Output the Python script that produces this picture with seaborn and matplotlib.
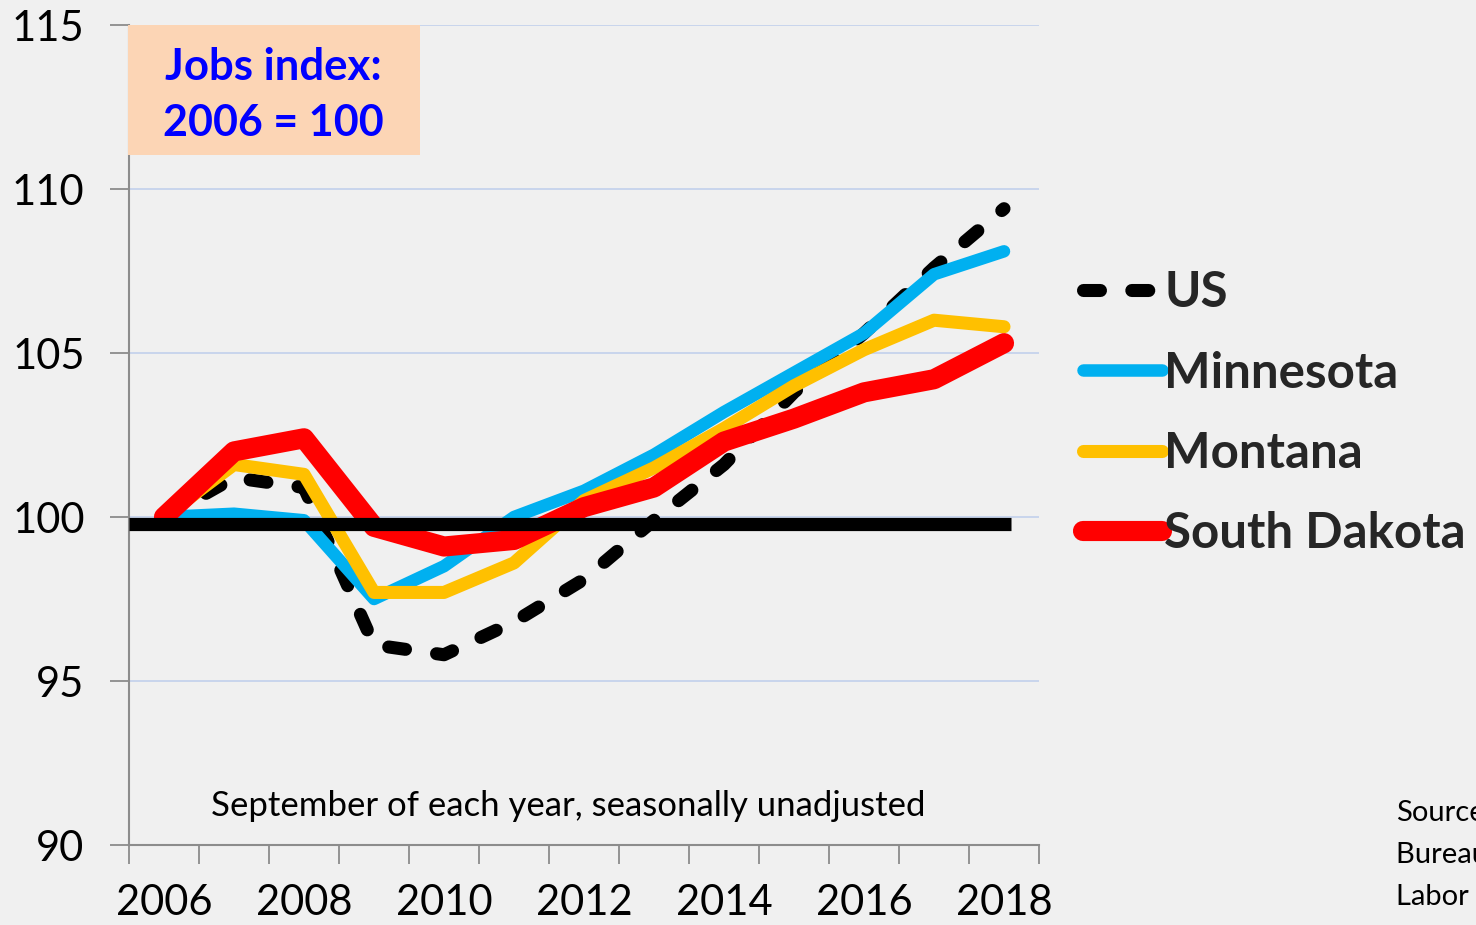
import matplotlib
matplotlib.use("Agg")
import matplotlib.pyplot as plt
import matplotlib.patches as mpatches
import seaborn as sns
import pandas as pd
import numpy as np

years = [2006, 2007, 2008, 2009, 2010, 2011, 2012, 2013, 2014, 2015, 2016, 2017, 2018]
us = [100.0, 101.2, 100.9, 96.1, 95.8, 96.8, 98.1, 99.9, 101.6, 103.8, 105.6, 107.6, 109.4]
minnesota = [100.0, 100.1, 99.9, 97.5, 98.5, 100.0, 100.8, 101.9, 103.2, 104.4, 105.6, 107.4, 108.1]
montana = [100.0, 101.6, 101.3, 97.7, 97.7, 98.6, 100.5, 101.5, 102.7, 104.0, 105.1, 106.0, 105.8]
south_dakota = [100.0, 102.0, 102.4, 99.7, 99.1, 99.3, 100.3, 100.9, 102.3, 103.0, 103.8, 104.2, 105.3]
baseline_value = 99.8
ytick_values = [90, 95, 100, 105, 110, 115]
xtick_labels = ["2006", "2008", "2010", "2012", "2014", "2016", "2018"]

BG = "#f0f0f0"
FONT = "Lato"

sns.set_theme(style="white")
plt.rcParams["font.family"] = [FONT, "DejaVu Sans"]

fig = plt.figure(figsize=(14.76, 9.25), dpi=100, facecolor=BG)
ax = fig.add_axes([129 / 1476, 80 / 925, 910 / 1476, 820 / 925])
ax.set_facecolor(BG)

x = np.arange(len(years))
df = pd.DataFrame({"pos": x, "US": us, "Minnesota": minnesota,
                   "Montana": montana, "South Dakota": south_dakota})

series = [
    ("US", "#000000", 9.4, True),
    ("Minnesota", "#00b0f0", 9.0, False),
    ("Montana", "#ffc000", 9.4, False),
    ("South Dakota", "#ff0000", 14.5, False),
]
handles = []
for name, color, lw, dashed in series:
    sns.lineplot(data=df, x="pos", y=name, ax=ax, color=color, linewidth=lw,
                 legend=False, sort=False)
    ln = ax.lines[-1]
    ln.set_solid_capstyle("round")
    ln.set_solid_joinstyle("round")
    ln.set_dash_capstyle("round")
    ln.set_dash_joinstyle("round")
    if dashed:
        ln.set_dashes((1.3, 2.4))
    handles.append(ln)

# baseline reference
ax.plot([-0.5, 12.1], [baseline_value, baseline_value], color="black",
        linewidth=9.5, solid_capstyle="butt", zorder=5)

ax.set_xlim(-0.5, 12.5)
ax.set_ylim(90, 115)
ax.set_xlabel("")
ax.set_ylabel("")

ax.set_yticks(ytick_values)
ax.set_yticklabels([str(v) for v in ytick_values])
ax.yaxis.grid(True, color="#c5d3ec", linewidth=1.3)
ax.xaxis.grid(False)
ax.set_axisbelow(True)

ax.set_xticks(np.arange(0, 13, 2))
ax.set_xticklabels(xtick_labels)
ax.set_xticks(np.arange(-0.5, 13, 1), minor=True)
ax.tick_params(axis="x", which="major", length=0, pad=28, labelsize=30, colors="black")
ax.tick_params(axis="x", which="minor", length=14, width=1.3, color="#8c8c8c", direction="out")
ax.tick_params(axis="y", which="major", length=14, width=1.3, color="#8c8c8c",
               direction="out", pad=18, labelsize=30, labelcolor="black")
ax.tick_params(axis="x", labelcolor="black")
ax.xaxis.set_ticks_position("bottom")
ax.yaxis.set_ticks_position("left")

for s in ["top", "right"]:
    ax.spines[s].set_visible(False)
for s in ["left", "bottom"]:
    ax.spines[s].set_color("#8c8c8c")
    ax.spines[s].set_linewidth(1.5)

# title box
box = mpatches.Rectangle((128 / 1476, 1 - 155 / 925), (420 - 128) / 1476, 130 / 925,
                         transform=fig.transFigure, facecolor="#fcd5b5",
                         edgecolor="none", zorder=3)
fig.patches.append(box)
fig.text(273 / 1476, 1 - 67 / 925, "Jobs index:", ha="center", va="center",
         fontsize=31.5, fontweight="bold", color="#0000ff", zorder=4)
fig.text(273 / 1476, 1 - 123 / 925, "2006 = 100", ha="center", va="center",
         fontsize=31, fontweight="bold", color="#0000ff", zorder=4)

fig.text((211 + 926) / 2 / 1476, 1 - 806 / 925, "September of each year, seasonally unadjusted",
         ha="center", va="center", fontsize=25, color="black")

fig.text(1396 / 1476, 1 - 855 / 925, "Source:\nBureau of\nLabor Statistics",
         ha="left", va="center", fontsize=21, color="black", linespacing=1.75)

leg = fig.legend(handles=handles, labels=[s[0] for s in series],
                 loc="upper left", bbox_to_anchor=(1083 / 1476, 1 - 270 / 925),
                 frameon=False, handlelength=1.6, handletextpad=0.05,
                 labelspacing=0.72, borderaxespad=0, borderpad=0,
                 prop={"family": FONT, "weight": "bold", "size": 35.5})

fig.savefig("out.png", dpi=100, facecolor=BG)
